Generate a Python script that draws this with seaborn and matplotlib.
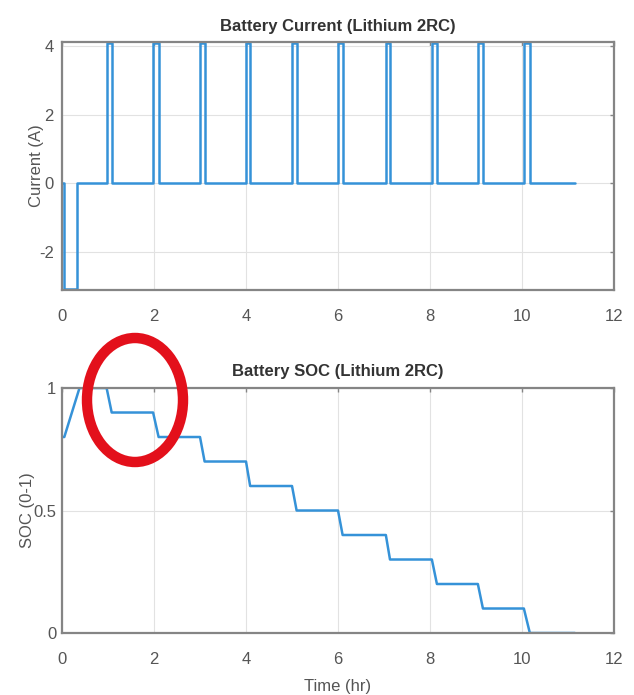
import matplotlib
matplotlib.use('Agg')
import matplotlib.pyplot as plt
import seaborn as sns
import pandas as pd
from matplotlib.patches import Ellipse

# Corrente da bateria (A) - pontos de quebra
tempo_corrente = [0.00, 0.05, 0.05, 0.33, 0.33,
                  0.97, 0.97, 1.08, 1.08,
                  1.98, 1.98, 2.10, 2.10,
                  3.00, 3.00, 3.10, 3.10,
                  4.00, 4.00, 4.09, 4.09,
                  5.00, 5.00, 5.10, 5.10,
                  6.00, 6.00, 6.10, 6.10,
                  7.04, 7.04, 7.13, 7.13,
                  8.04, 8.04, 8.15, 8.15,
                  9.04, 9.04, 9.15, 9.15,
                  10.04, 10.04, 10.17, 10.17,
                  11.15]
corrente = [0.0, 0.0, -3.1, -3.1, 0.0,
            0.0, 4.1, 4.1, 0.0,
            0.0, 4.1, 4.1, 0.0,
            0.0, 4.1, 4.1, 0.0,
            0.0, 4.1, 4.1, 0.0,
            0.0, 4.1, 4.1, 0.0,
            0.0, 4.1, 4.1, 0.0,
            0.0, 4.1, 4.1, 0.0,
            0.0, 4.1, 4.1, 0.0,
            0.0, 4.1, 4.1, 0.0,
            0.0, 4.1, 4.1, 0.0,
            0.0]

# Estado de carga (SOC)
tempo_soc = [0.00, 0.05, 0.38, 0.97, 1.08, 1.98, 2.10, 3.00, 3.10,
             4.00, 4.09, 5.00, 5.10, 6.00, 6.10, 7.04, 7.13, 8.04, 8.15,
             9.04, 9.15, 10.04, 10.17, 11.15]
soc = [0.80, 0.80, 1.00, 1.00, 0.90, 0.90, 0.80, 0.80, 0.70,
       0.70, 0.60, 0.60, 0.50, 0.50, 0.40, 0.40, 0.30, 0.30, 0.20,
       0.20, 0.10, 0.10, 0.00, 0.00]

df_corrente = pd.DataFrame({'Tempo': tempo_corrente, 'Corrente': corrente})
df_soc = pd.DataFrame({'Tempo': tempo_soc, 'SOC': soc})

sns.set_style('whitegrid')
plt.rcParams['font.family'] = ['Liberation Sans', 'DejaVu Sans']
plt.rcParams['axes.unicode_minus'] = False

azul = '#3592d8'
cinza_txt = '#555555'
cinza_eixo = '#858585'

fig = plt.figure(figsize=(6.34, 6.95), dpi=100)
ax1 = fig.add_axes([0.0978, 0.5827, 0.8707, 0.3569])
ax2 = fig.add_axes([0.0978, 0.0892, 0.8707, 0.3525])

sns.lineplot(data=df_corrente, x='Tempo', y='Corrente', ax=ax1, sort=False,
             estimator=None, color=azul, linewidth=1.8)
sns.lineplot(data=df_soc, x='Tempo', y='SOC', ax=ax2, sort=False,
             estimator=None, color=azul, linewidth=1.8)

for ax in (ax1, ax2):
    ax.set_xlim(0, 12)
    ax.set_xticks([0, 2, 4, 6, 8, 10, 12])
    ax.grid(True, color='#e2e2e2', linewidth=0.8)
    for s in ax.spines.values():
        s.set_color(cinza_eixo)
        s.set_linewidth(1.6)
    ax.tick_params(axis='both', labelsize=12, colors=cinza_txt, length=3,
                   direction='in', width=1, top=True, right=True)
    ax.tick_params(axis='both', color=cinza_eixo)
    ax.tick_params(axis='x', pad=14)

ax1.tick_params(axis='y', pad=6)
ax2.tick_params(axis='y', pad=4)

ax1.set_ylim(-3.12, 4.12)
ax1.set_yticks([-2, 0, 2, 4])
ax1.set_title('Battery Current (Lithium 2RC)', fontsize=12, fontweight='bold',
              color='#333333', pad=8)
ax1.set_xlabel('')
ax1.set_ylabel('Current (A)', fontsize=12, color=cinza_txt, labelpad=-4)

ax2.set_ylim(0, 1)
ax2.set_yticks([0, 0.5, 1])
ax2.set_yticklabels(['0', '0.5', '1'])
ax2.set_title('Battery SOC (Lithium 2RC)', fontsize=12, fontweight='bold',
              color='#333333', pad=9)
ax2.set_xlabel('Time (hr)', fontsize=12, color=cinza_txt, labelpad=8)
ax2.set_ylabel('SOC (0-1)', fontsize=12, color=cinza_txt, labelpad=-1)

# círculo vermelho de destaque
circulo = Ellipse((135 / 634, 1 - 400 / 695), 96 / 634, 124 / 695,
                  transform=fig.transFigure, fill=False, edgecolor='#e3101b',
                  linewidth=7.5, zorder=10)
fig.patches.append(circulo)

plt.savefig('out.png', dpi=100)
